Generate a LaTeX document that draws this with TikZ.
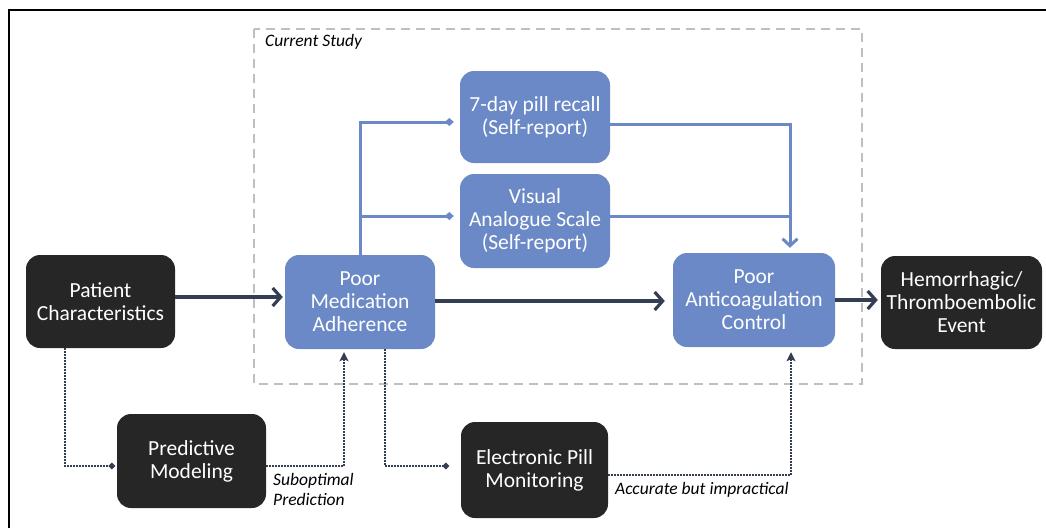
\documentclass[tikz,border=0pt]{standalone}
\usepackage{fontspec}
\setmainfont{Carlito}
\usetikzlibrary{arrows.meta,calc}
\definecolor{boxblue}{RGB}{106,137,198}
\definecolor{boxdark}{RGB}{38,38,38}
\definecolor{navy}{RGB}{52,62,82}
\definecolor{dashgray}{RGB}{191,191,191}
\tikzset{
  basebox/.style={rounded corners=14pt, text=white, align=center, inner sep=2pt,
    font=\fontsize{21.5}{23}\selectfont},
  darkbox/.style={basebox, fill=boxdark},
  bluebox/.style={basebox, fill=boxblue},
  mainarrow/.style={navy, line width=3.2pt, -{Straight Barb[length=8pt,width=18pt,line width=3.2pt]}},
  bluetree/.style={boxblue, line width=3pt},
  bluearrow/.style={bluetree, -{Straight Barb[length=7pt,width=15pt,line width=3pt]}},
  diamondend/.style={-{Diamond[length=9pt,width=8pt]}},
  dotline/.style={navy, line width=2.4pt, dash pattern=on 1.6pt off 1.4pt},
  dotarrow/.style={dotline, -{Stealth[length=9pt,width=9pt,inset=2pt]}},
  dotend/.style={dotline, -{Circle[length=6pt]}},
  lab/.style={font=\fontsize{17.5}{20}\selectfont\itshape, text=black, inner sep=0pt},
}
\begin{document}
\begin{tikzpicture}[x=1pt,y=-1pt]
\useasboundingbox (0,0) rectangle (1046,528);
% frame
\draw[black, line width=2.5pt] (9,528) -- (9,10) -- (1046,10);
% study box
\draw[dashgray, line width=2pt, dash pattern=on 9pt off 6pt] (254,29) rectangle (862,384);
\node[lab, anchor=west] (cs) at (265,42) {Current Study};
% nodes
\node[darkbox, minimum width=149pt, minimum height=93pt] (pc) at (100.5,301.5) {Patient\\Characteristics};
\node[bluebox, minimum width=150pt, minimum height=94pt] (pm) at (360,302) {Poor\\Medication\\Adherence};
\node[bluebox, minimum width=150pt, minimum height=92pt] (rec) at (535,117) {7-day pill recall\\(Self-report)};
\node[bluebox, minimum width=150pt, minimum height=94pt] (vas) at (535,221) {Visual\\Analogue Scale\\(Self-report)};
\node[bluebox, minimum width=162pt, minimum height=94pt] (pac) at (754,300) {Poor\\Anticoagulation\\Control};
\node[darkbox, minimum width=161pt, minimum height=93pt] (he) at (961.5,302.5) {Hemorrhagic/\\Thromboembolic\\Event};
\node[darkbox, minimum width=149pt, minimum height=94pt] (pr) at (191.5,461) {Predictive\\Modeling};
\node[darkbox, minimum width=147pt, minimum height=96pt] (ep) at (534.5,470) {Electronic Pill\\Monitoring};
% main arrows
\draw[mainarrow, shorten >=2pt] (pc.east |- 0,297) -- (pm.west |- 0,297);
\draw[mainarrow, shorten >=8pt] (pm.east |- 0,301) -- (pac.west |- 0,301);
\draw[mainarrow, shorten >=3pt] (pac.east |- 0,300) -- (he.west |- 0,300);
% blue tree
\draw[bluetree, diamondend, shorten >=6pt] (pm.north) |- (rec.west |- 0,122);
\draw[bluetree, diamondend, shorten >=6pt] (pm.north |- 0,216) -- (vas.west |- 0,216);
\draw[bluearrow, shorten >=5pt] (rec.east |- 0,124) -| (pac.north -| 790,0);
\draw[bluetree] (vas.east |- 0,216) -- (790,216);
% dotted
\draw[dotend, shorten >=2pt] (pc.south -| 65,0) |- (pr.west |- 0,466);
\draw[dotarrow, shorten >=3pt] (pr.east |- 0,466) -| (pm.south -| 344,0);
\draw[dotend, shorten >=12pt] (pm.south -| 385,0) |- (ep.west |- 0,466);
\draw[dotarrow, shorten >=5pt] (ep.east |- 0,475) -| (pac.south -| 791,0);
% labels
\node[lab, anchor=north west, align=left] (sp) at (273,473) {Suboptimal\\Prediction};
\node[lab, anchor=west] (ai) at (615,490) {Accurate but impractical};
\end{tikzpicture}
\end{document}
